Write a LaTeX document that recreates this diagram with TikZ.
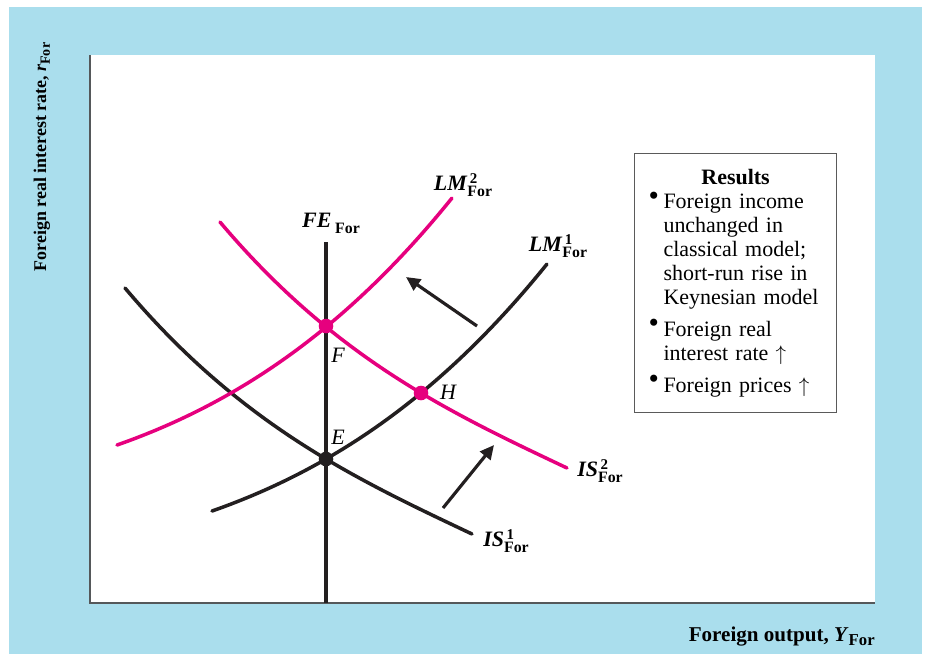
\documentclass[tikz,border=0pt]{standalone}
\usepackage{fontspec}
\setmainfont{Liberation Serif}
\usepackage{graphicx}
\usetikzlibrary{arrows.meta}
\definecolor{panelBlue}{RGB}{170,222,237}
\definecolor{curveInk}{RGB}{35,31,32}
\definecolor{shiftPink}{RGB}{230,0,126}
\definecolor{axisGray}{RGB}{85,88,90}
\definecolor{boxGray}{RGB}{90,90,90}
% curve label: italic bold name, index stacked over bold For
\newcommand{\CurveLab}[2]{\textbf{\textit{#1}}%
  \rlap{\raisebox{4.3pt}{\fontsize{8.5}{9}\selectfont\bfseries\,#2}}%
  \raisebox{-3.4pt}{\fontsize{9}{9}\selectfont\bfseries For}}
\newcommand{\ResBullet}{\makebox[8.5pt][l]{\raisebox{0.35ex}{\scalebox{1.35}{\textbullet}}}}
\newcommand{\ResItem}[1]{\par\hangindent=8.5pt\hangafter=1\noindent\ResBullet#1\par}
\newcommand{\ResGap}{\vspace{4.6pt}}

\tikzset{
  curve/.style={line width=2pt,line cap=round},
  oldcurve/.style={curve,draw=curveInk},
  newcurve/.style={curve,draw=shiftPink},
  shiftarrow/.style={line width=1.8pt,draw=curveInk,-{Triangle[length=8pt,width=7.5pt]}},
  eqdot/.style={circle,inner sep=0pt,minimum size=8.3pt},
  curvelab/.style={font=\fontsize{12.5}{14}\selectfont,inner sep=1pt},
  ptlab/.style={font=\fontsize{12.5}{14}\selectfont\itshape,inner sep=1pt},
  axislab/.style={font=\fontsize{12}{13}\selectfont\bfseries,inner sep=0pt},
  resultsbox/.style={draw=boxGray,line width=0.6pt,fill=white,anchor=north west,
    minimum width=115pt,minimum height=147.5pt,text width=99pt,inner xsep=8pt,
    align=left,font=\fontsize{12.5}{13.6}\selectfont}
}

\begin{document}
\begin{tikzpicture}[x=0.02cm,y=-0.02cm]
\useasboundingbox (0,0) rectangle (925,654);
\fill[white] (0,0) rectangle (925,654);
\fill[panelBlue] (9,7) rectangle (922,654);
\fill[white] (90,55) rectangle (875,603);
\draw[axisGray,line width=1.1pt] (90,55) -- (90,603) -- (875,603);

% equilibrium points
\coordinate (E) at (326,459);
\coordinate (F) at (326,326);
\coordinate (H) at (421,393);

% FE line
\draw[curveInk,line width=1.8pt] (326,242) -- (326,603);

% IS curves (second one shifted up and right)
\draw[oldcurve] plot[domain=-2.01:1.46,samples=70]
  ({326+100*\x},{459+59.68*\x-8.613*\x*\x+2.0*\x*\x*\x});
\draw[newcurve,shift={(95,-66)}] plot[domain=-2.01:1.46,samples=70]
  ({326+100*\x},{459+59.68*\x-8.613*\x*\x+2.0*\x*\x*\x});
% LM curves (second one shifted up and left)
\draw[oldcurve] plot[domain=-1.14:2.21,samples=70]
  ({326+100*\x},{459-57.51*\x-11.61*\x*\x-1.037*\x*\x*\x});
\draw[newcurve,shift={(-95,-66)}] plot[domain=-1.14:2.21,samples=70]
  ({326+100*\x},{459-57.51*\x-11.61*\x*\x-1.037*\x*\x*\x});

\node[eqdot,fill=curveInk] (Edot) at (E) {};
\node[eqdot,fill=shiftPink] (Fdot) at (F) {};
\node[eqdot,fill=shiftPink] (Hdot) at (H) {};

% shift arrows
\coordinate (lmtail) at (477,326);
\coordinate (lmtip) at (406,277);
\coordinate (istail) at (443,508);
\coordinate (istip) at (494,445);
\draw[shiftarrow] (lmtail) -- (lmtip);
\draw[shiftarrow] (istail) -- (istip);

% labels
\node[curvelab] (fe) at (331,223) {\textbf{\textit{FE}}\,\raisebox{-3.4pt}{\fontsize{9}{9}\selectfont\bfseries For}};
\node[curvelab] (lm2) at (463,185) {\CurveLab{LM}{2}};
\node[curvelab] (lm1) at (558,246) {\CurveLab{LM}{1}};
\node[curvelab] (is2) at (600,471) {\CurveLab{IS}{2}};
\node[curvelab] (is1) at (506,541) {\CurveLab{IS}{1}};
\node[ptlab] (Flab) at (338,355) {F};
\node[ptlab] (Hlab) at (448,392) {H};
\node[ptlab] (Elab) at (338,437) {E};

% results box
\node[resultsbox] (results) at (634,153) {%
\centering\textbf{Results}\par
\raggedright
\ResItem{Foreign income\newline unchanged in\newline classical model;\newline short-run rise in\newline Keynesian model}
\ResGap
\ResItem{Foreign real\newline interest rate $\uparrow$}
\ResGap
\ResItem{Foreign prices $\uparrow$}};

% axis titles
\node[axislab,anchor=base east] (xtitle) at (875,641) {Foreign output, \textit{Y}\raisebox{-2.5pt}{\fontsize{9.5}{9}\selectfont For}};
\node[axislab,font=\fontsize{10.2}{12}\selectfont\bfseries,rotate=90,anchor=base] (ytitle) at (46,157) {Foreign real interest rate, \textit{r}\raisebox{-2.2pt}{\fontsize{8}{8}\selectfont For}};
\end{tikzpicture}
\end{document}
